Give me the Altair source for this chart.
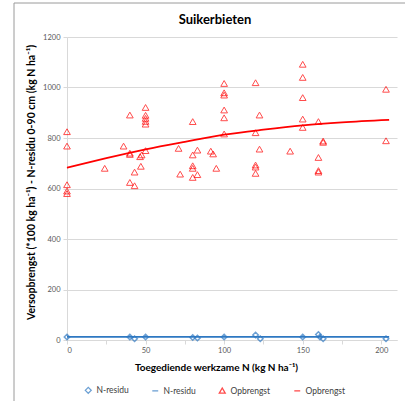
import altair as alt
import pandas as pd

# ---- data ----
opb_x = [0, 0, 0, 0, 0, 24, 36, 40, 40, 40, 40, 43, 43, 46.5, 47.5, 47,
         50, 50, 50, 50, 50, 50, 71, 72, 80, 80, 80, 80, 80, 83, 83, 91.5, 93, 95,
         100, 100, 100, 100, 100, 100, 120, 120, 120, 120, 120, 122.5, 122.5, 142,
         150, 150, 150, 150, 150, 160, 160, 160, 160, 163, 163, 203, 203]
opb_y = [825, 768, 615, 590, 580, 680, 768, 891, 740, 735, 624, 665, 611, 726, 733, 688,
         921, 890, 878, 866, 855, 750, 759, 657, 865, 733, 690, 680, 644, 752, 655, 748, 737, 680,
         1016, 979, 970, 911, 880, 816, 1019, 821, 693, 685, 660, 891, 756, 748,
         1092, 1040, 960, 875, 842, 865, 723, 671, 665, 788, 783, 993, 789]

nres_x = [0, 40, 43, 50, 80, 83, 100, 120, 123, 150, 160, 161, 163, 203]
nres_y = [12, 12, 5, 12, 10, 8, 12, 20, 5, 12, 22, 12, 5, 5]

opb_trend_x = [0, 25, 50, 75, 100, 125, 150, 175, 205]
opb_trend_y = [682, 720, 755, 785, 813, 833, 850, 862, 872]

nres_trend_x = [0, 205]
nres_trend_y = [12, 12]

x_ticks = [0, 25, 50, 75, 100, 125, 150, 175, 200]
y_ticks = [0, 200, 400, 600, 800, 1000, 1200]

BLUE = "#2E78C2"
RED = "#FF0000"
FONT = "Lato"
DOM = ["N-residu", "N-residu ", "Opbrengst", "Opbrengst "]

pts_n = pd.DataFrame({"x": nres_x, "y": nres_y, "series": "N-residu"})
pts_o = pd.DataFrame({"x": opb_x, "y": opb_y, "series": "Opbrengst"})
ln = pd.concat([
    pd.DataFrame({"x": nres_trend_x, "y": nres_trend_y, "series": "N-residu "}),
    pd.DataFrame({"x": opb_trend_x, "y": opb_trend_y, "series": "Opbrengst "}),
])

color_scale = alt.Scale(domain=DOM, range=[BLUE, BLUE, RED, RED])
shape_scale = alt.Scale(domain=DOM, range=["diamond", "stroke", "triangle-up", "stroke"])

legend = alt.Legend(
    orient="none", legendX=17, legendY=349, direction="horizontal", columns=4,
    title=None, labelExpr="trim(datum.label)", symbolSize=35, labelFontSize=8.5,
    labelFont=FONT, labelColor="#404040", columnPadding=20, labelOffset=4,
    symbolStrokeWidth=1.3,
)

xenc = alt.X("x:Q", scale=alt.Scale(domain=[0, 210], nice=False),
             axis=alt.Axis(values=x_ticks,
                           labelExpr="datum.value % 50 == 0 ? datum.label : ''",
                           title="Toegediende werkzame N (kg N ha⁻¹)",
                           grid=False, tickSize=4, labelPadding=2,
                           titleX=149, titleY=27, titleBaseline="middle", titleAlign="center"))
yenc = alt.Y("y:Q", scale=alt.Scale(domain=[0, 1200], nice=False),
             axis=alt.Axis(values=y_ticks, format="d", grid=True, tickSize=4, labelPadding=3,
                           title="Versopbrengst (*100 kg  ha⁻¹) - N-residu 0-90 cm (kg N ha⁻¹)",
                           titleAngle=270, titleX=-36, titleY=145, titleAlign="center",
                           titleBaseline="middle", titleFontSize=10.5))

base_pts = alt.Chart(pts_n).mark_point(filled=False, size=30, strokeWidth=1.5).encode(
    x=xenc, y=yenc,
    color=alt.Color("series:N", scale=color_scale, legend=legend),
    shape=alt.Shape("series:N", scale=shape_scale, legend=legend),
)
tri_pts = alt.Chart(pts_o).mark_point(filled=False, size=45, strokeWidth=1).encode(
    x="x:Q", y="y:Q",
    color=alt.Color("series:N", scale=color_scale, legend=legend),
    shape=alt.Shape("series:N", scale=shape_scale, legend=legend),
)
lines = alt.Chart(ln).mark_line(strokeWidth=1.8, interpolate="monotone").encode(
    x="x:Q", y="y:Q",
    color=alt.Color("series:N", scale=color_scale, legend=legend),
)

frame_df = pd.DataFrame({"a": [0]})
frame_left = alt.Chart(frame_df).mark_rule(color="#9a9a9a", strokeWidth=1).encode(
    x=alt.value(-53), y=alt.value(-34), y2=alt.value(364))
frame_top = alt.Chart(frame_df).mark_rule(color="#9a9a9a", strokeWidth=1).encode(
    x=alt.value(-53), x2=alt.value(338), y=alt.value(-34))

chart = alt.layer(frame_left, frame_top, lines, base_pts, tri_pts).properties(
    width=330, height=303,
    title=alt.TitleParams("Suikerbieten", fontSize=13, fontWeight="bold", font=FONT,
                          color="#000000", anchor="middle", dx=-17, dy=41,
                          baseline="bottom"),
    autosize=alt.AutoSizeParams(type="none"),
    padding={"left": 67, "top": 37, "right": 8, "bottom": 61},
).configure_view(stroke=None).configure_axis(
    labelFont=FONT, labelFontSize=7.5, labelColor="#595959",
    titleFont=FONT, titleFontSize=10, titleFontWeight="bold", titleColor="#000000",
    domainColor="#D9D9D9", tickColor="#D9D9D9", gridColor="#D9D9D9",
)

chart.save("out.html", embed_options={"renderer": "svg", "actions": False})
